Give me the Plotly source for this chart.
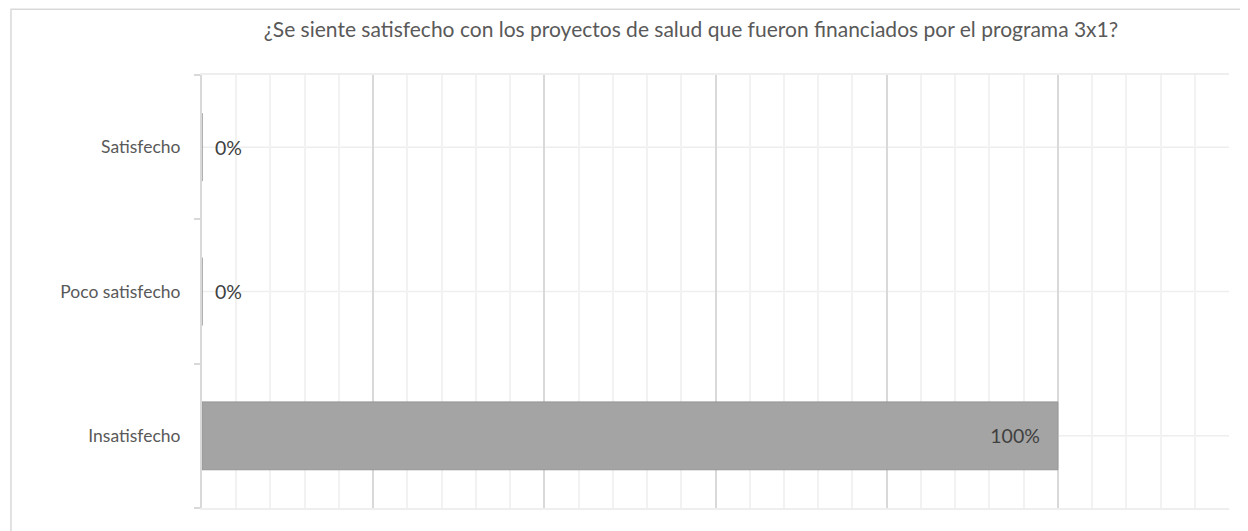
import plotly.graph_objects as go

# data (bottom to top, as drawn)
categorias = ['Insatisfecho', 'Poco satisfecho', 'Satisfecho']
porcentajes = [1.0, 0.0, 0.0]
titulo = '¿Se siente satisfecho con los proyectos de salud que fueron financiados por el programa 3x1?'

fuente = 'Lato'
etiquetas = ['{:.0%}\u00a0\u00a0\u00a0'.format(v) if v > 0 else '\u00a0\u00a0{:.0%}'.format(v)
             for v in porcentajes]

fig = go.Figure()
fig.add_trace(go.Bar(
    y=categorias, x=porcentajes, orientation='h',
    width=0.47,
    marker=dict(color='#a4a4a4', line=dict(color='#959595', width=1)),
    text=etiquetas,
    textposition=['inside' if v > 0 else 'outside' for v in porcentajes],
    insidetextanchor='end',
    textfont=dict(family=fuente, size=19.5, color='#404040'),
    cliponaxis=False,
    hoverinfo='skip',
))

# horizontal lines through each category centre
for c in categorias:
    fig.add_shape(type='line', xref='paper', x0=0, x1=1, yref='y', y0=c, y1=c,
                  line=dict(color='#eeeeee', width=1.5), layer='below')

# outer chart border (page has an 8px body margin)
fig.add_shape(type='rect', xref='paper', yref='paper', x0=-0.186, x1=1.2, y0=-0.2, y1=1.152,
              line=dict(color='#d9d9d9', width=1.5), fillcolor='rgba(0,0,0,0)')

fig.update_layout(
    width=1248, height=531,
    margin=dict(l=194, r=27, t=67, b=31),
    paper_bgcolor='white', plot_bgcolor='white',
    showlegend=False,
    title=dict(text=titulo, x=683 / 1248, xanchor='center', xref='container', y=1 - 22 / 531,
               yanchor='middle', yref='container',
               font=dict(family=fuente, size=21, color='#595959')),
    font=dict(family=fuente),
)

fig.update_xaxes(range=[0, 1.2], dtick=0.2, showticklabels=False, ticks='',
                 showgrid=True, gridcolor='#d9d9d9', gridwidth=1.5,
                 minor=dict(dtick=0.04, showgrid=True, gridcolor='#f2f2f2', gridwidth=1.5),
                 zeroline=False, showline=True, linecolor='#eeeeee', linewidth=1.5, mirror=True)
fig.update_yaxes(type='category', categoryorder='array', categoryarray=categorias,
                 tickson='boundaries', ticks='outside', ticklen=6, tickcolor='#d9d9d9', tickwidth=1.5,
                 showgrid=False, zeroline=False, showline=True, linecolor='#d9d9d9', linewidth=2,
                 ticklabelstandoff=16,
                 tickfont=dict(family=fuente, size=17.5, color='#595959'))

fig.write_html('out.html')
